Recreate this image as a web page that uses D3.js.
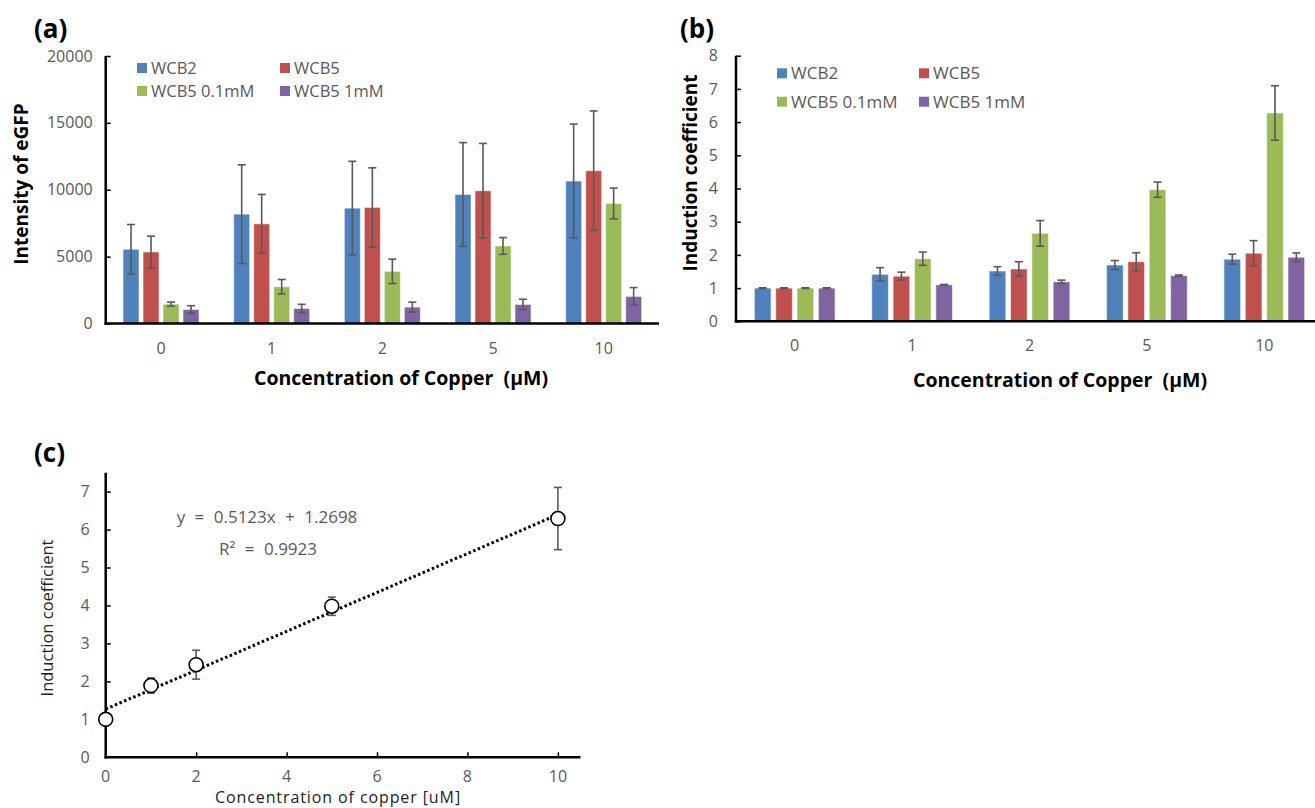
<!DOCTYPE html>
<html>
<head>
<meta charset="utf-8">
<script src="https://cdn.jsdelivr.net/npm/d3@7"></script>
<style>
  html, body { margin: 0; padding: 0; background: #fff; }
  svg { display: block; }
  text { font-family: "Open Sans", "Noto Sans", sans-serif; white-space: pre; }
</style>
</head>
<body>
<svg id="chart" width="1315" height="808"></svg>
<script>
// ---------- DATA ----------
const categories = ["0", "1", "2", "5", "10"];
const seriesNames = ["WCB2", "WCB5", "WCB5 0.1mM", "WCB5 1mM"];
const seriesColors = ["#4F81BD", "#C0504D", "#9BBB59", "#8064A2"];

// (a) Intensity of eGFP
const intensityWCB2 = [5550, 8175, 8625, 9650, 10650];
const intensityWCB2Err = [1850, 3690, 3500, 3875, 4260];
const intensityWCB5 = [5350, 7450, 8680, 9925, 11425];
const intensityWCB5Err = [1180, 2200, 2960, 3540, 4470];
const intensityWCB5_01 = [1450, 2750, 3900, 5800, 8975];
const intensityWCB5_01Err = [150, 540, 910, 625, 1150];
const intensityWCB5_1 = [1050, 1125, 1225, 1425, 2025];
const intensityWCB5_1Err = [280, 310, 370, 390, 660];
const intensityTicks = [0, 5000, 10000, 15000, 20000];

// (b) Induction coefficient
const inductionWCB2 = [1.00, 1.415, 1.515, 1.695, 1.87];
const inductionWCB2Err = [0.01, 0.20, 0.13, 0.135, 0.15];
const inductionWCB5 = [1.00, 1.36, 1.575, 1.795, 2.05];
const inductionWCB5Err = [0.01, 0.12, 0.22, 0.27, 0.38];
const inductionWCB5_01 = [1.00, 1.885, 2.65, 3.965, 6.275];
const inductionWCB5_01Err = [0.01, 0.20, 0.385, 0.23, 0.82];
const inductionWCB5_1 = [1.00, 1.10, 1.19, 1.375, 1.93];
const inductionWCB5_1Err = [0.01, 0.01, 0.05, 0.02, 0.13];
const inductionTicks = [0, 1, 2, 3, 4, 5, 6, 7, 8];

// (c) Linear fit
const copperX = [0, 1, 2, 5, 10];
const fitY = [1.00, 1.89, 2.44, 3.98, 6.29];
const fitErr = [0, 0.20, 0.38, 0.24, 0.82];
const fitSlope = 0.5123, fitIntercept = 1.2698, fitR2 = 0.9923;
const fitXTicks = [0, 2, 4, 6, 8, 10];
const fitYTicks = [0, 1, 2, 3, 4, 5, 6, 7];

// ---------- HELPERS ----------
const svg = d3.select("#chart");
const GRAY = "#595959";

function buildRows(vals, errs) {
  return categories.map((c, i) => ({
    cat: c,
    vals: vals.map((v, s) => ({ s, v: v[i], e: errs[s][i] }))
  }));
}

function barPanel(opt) {
  const g = svg.append("g");
  const x0 = d3.scaleBand().domain(categories).range([opt.x0, opt.x1]).padding(0);
  const bw = x0.bandwidth();
  const x1 = d3.scaleBand().domain(d3.range(seriesNames.length))
    .range([(bw - opt.groupW) / 2, (bw + opt.groupW) / 2]).paddingInner(opt.inner);
  const y = d3.scaleLinear().domain(opt.yDomain).range([opt.y0, opt.yTop]);
  const rows = buildRows(opt.vals, opt.errs);

  const grp = g.selectAll("g.grp").data(rows).join("g")
    .attr("transform", d => `translate(${x0(d.cat)},0)`);
  grp.selectAll("rect").data(d => d.vals).join("rect")
    .attr("x", d => x1(d.s)).attr("width", x1.bandwidth())
    .attr("y", d => y(d.v)).attr("height", d => y(0) - y(d.v))
    .attr("fill", d => seriesColors[d.s])
    .attr("stroke", "#ffffff").attr("stroke-opacity", 0.55).attr("stroke-width", 1);
  // error bars
  const eb = grp.selectAll("g.eb").data(d => d.vals).join("g").attr("class", "eb")
    .attr("stroke", GRAY).attr("stroke-width", 1.6);
  eb.append("line")
    .attr("x1", d => x1(d.s) + x1.bandwidth() / 2).attr("x2", d => x1(d.s) + x1.bandwidth() / 2)
    .attr("y1", d => y(d.v + d.e)).attr("y2", d => y(d.v - d.e));
  [1, -1].forEach(sign => {
    eb.append("line")
      .attr("x1", d => x1(d.s) + x1.bandwidth() / 2 - 4).attr("x2", d => x1(d.s) + x1.bandwidth() / 2 + 4)
      .attr("y1", d => y(d.v + sign * d.e)).attr("y2", d => y(d.v + sign * d.e));
  });

  // y axis
  const yAxis = d3.axisRight(y).tickValues(opt.yTicks).tickSize(5).tickFormat("");
  const ya = g.append("g").attr("transform", `translate(${opt.x0},0)`).call(yAxis);
  ya.select(".domain").remove();
  ya.selectAll("line").attr("stroke", "#000").attr("stroke-width", 1.5);
  g.append("line").attr("x1", opt.x0).attr("x2", opt.x0)
    .attr("y1", opt.yTop).attr("y2", opt.y0 + 1.2)
    .attr("stroke", "#000").attr("stroke-width", 2.5);
  g.selectAll("text.ytl").data(opt.yTicks).join("text").attr("class", "ytl")
    .attr("x", opt.x0 - opt.labelGap).attr("y", d => y(d)).attr("dy", "0.35em")
    .attr("text-anchor", "end").attr("fill", GRAY).attr("font-size", 16)
    .text(d => d);
  // x axis
  g.append("line").attr("x1", opt.x0 - 1.2).attr("x2", opt.x1)
    .attr("y1", opt.y0).attr("y2", opt.y0)
    .attr("stroke", "#000").attr("stroke-width", 2.5);
  g.selectAll("text.xtl").data(categories).join("text").attr("class", "xtl")
    .attr("x", d => x0(d) + bw / 2).attr("y", opt.y0 + opt.xLabelDy).attr("dy", "0.35em")
    .attr("text-anchor", "middle").attr("fill", GRAY).attr("font-size", 16)
    .text(d => d);

  // titles
  g.append("text").attr("x", opt.xTitleX).attr("y", opt.xTitleY).attr("dy", "0.35em")
    .attr("text-anchor", "middle").attr("font-weight", "bold").attr("font-size", 19.5)
    .attr("fill", "#000").text(opt.xTitle);
  g.append("text").attr("transform", `translate(${opt.yTitleX},${opt.yTitleY}) rotate(-90)`)
    .attr("dy", "0.35em").attr("text-anchor", "middle").attr("font-weight", "bold")
    .attr("font-size", 19).attr("fill", "#000").text(opt.yTitle);

  // legend
  const lg = g.selectAll("g.lg").data(seriesNames).join("g")
    .attr("transform", (d, i) => `translate(${opt.legX + (i % 2) * opt.legColW},${opt.legY + Math.floor(i / 2) * opt.legRowH})`);
  lg.append("rect").attr("x", 0).attr("y", -5).attr("width", 10).attr("height", 10)
    .attr("fill", (d, i) => seriesColors[i]);
  lg.append("text").attr("x", 14).attr("y", 0).attr("dy", "0.35em")
    .attr("fill", GRAY).attr("font-size", opt.legFont).text(d => d);

  // panel label
  svg.append("text").attr("x", opt.panelX).attr("y", opt.panelY)
    .attr("font-family", "Liberation Sans, Arial, sans-serif").attr("font-weight", "bold")
    .attr("font-size", 26).attr("fill", "#000").text(opt.panel);
}

// ---------- PANEL (a) ----------
barPanel({
  x0: 105.7, x1: 659, y0: 323.5, yTop: 56, yDomain: [0, 20000], yTicks: intensityTicks,
  groupW: 76, inner: 0.2,
  vals: [intensityWCB2, intensityWCB5, intensityWCB5_01, intensityWCB5_1],
  errs: [intensityWCB2Err, intensityWCB5Err, intensityWCB5_01Err, intensityWCB5_1Err],
  labelGap: 13, xLabelDy: 25,
  xTitle: "Concentration of Copper  (μM)", xTitleX: 401, xTitleY: 378,
  yTitle: "Intensity of eGFP", yTitleX: 21, yTitleY: 184,
  legX: 137, legY: 68, legColW: 143, legRowH: 23, legFont: 16.5,
  panel: "(a)", panelX: 34, panelY: 38
});

// ---------- PANEL (b) ----------
barPanel({
  x0: 736, x1: 1323, y0: 321.3, yTop: 55.7, yDomain: [0, 8], yTicks: inductionTicks,
  groupW: 80.7, inner: 0.22,
  vals: [inductionWCB2, inductionWCB5, inductionWCB5_01, inductionWCB5_1],
  errs: [inductionWCB2Err, inductionWCB5Err, inductionWCB5_01Err, inductionWCB5_1Err],
  labelGap: 18, xLabelDy: 24,
  xTitle: "Concentration of Copper  (μM)", xTitleX: 1060, xTitleY: 380,
  yTitle: "Induction coefficient", yTitleX: 690, yTitleY: 173,
  legX: 777, legY: 73.3, legColW: 142, legRowH: 28.4, legFont: 17,
  panel: "(b)", panelX: 680, panelY: 38
});

// ---------- PANEL (c) ----------
(function () {
  const g = svg.append("g");
  const X0 = 105.7, X1 = 580.5, Y0 = 757.3, YTOP = 472.7;
  const x = d3.scaleLinear().domain([0, 10.5]).range([X0, X1]);
  const y = d3.scaleLinear().domain([0, 7]).range([Y0, 491.6]);

  // axes
  const xa = g.append("g").attr("transform", `translate(0,${Y0})`)
    .call(d3.axisTop(x).tickValues(fitXTicks.filter(d => d > 0)).tickSize(5).tickFormat(""));
  xa.select(".domain").remove();
  xa.selectAll("line").attr("stroke", "#000").attr("stroke-width", 1.5);
  const ya = g.append("g").attr("transform", `translate(${X0},0)`)
    .call(d3.axisRight(y).tickValues(fitYTicks.filter(d => d > 0)).tickSize(5).tickFormat(""));
  ya.select(".domain").remove();
  ya.selectAll("line").attr("stroke", "#000").attr("stroke-width", 1.5);
  g.append("line").attr("x1", X0).attr("x2", X0).attr("y1", YTOP).attr("y2", Y0 + 1.2)
    .attr("stroke", "#000").attr("stroke-width", 2.5);
  g.append("line").attr("x1", X0 - 1.2).attr("x2", X1).attr("y1", Y0).attr("y2", Y0)
    .attr("stroke", "#000").attr("stroke-width", 2.5);

  g.selectAll("text.xt").data(fitXTicks).join("text").attr("class", "xt")
    .attr("x", d => x(d)).attr("y", Y0 + 19).attr("dy", "0.35em")
    .attr("text-anchor", "middle").attr("fill", GRAY).attr("font-size", 16).text(d => d);
  g.selectAll("text.yt").data(fitYTicks).join("text").attr("class", "yt")
    .attr("x", X0 - 16).attr("y", d => y(d)).attr("dy", "0.35em")
    .attr("text-anchor", "end").attr("fill", GRAY).attr("font-size", 16).text(d => d);

  // trendline
  g.append("line")
    .attr("x1", x(0)).attr("y1", y(fitIntercept))
    .attr("x2", x(10)).attr("y2", y(fitSlope * 10 + fitIntercept))
    .attr("stroke", "#000").attr("stroke-width", 3).attr("stroke-dasharray", "2.5,2.5");

  // error bars
  const pts = copperX.map((cx, i) => ({ x: cx, y: fitY[i], e: fitErr[i] }));
  const eb = g.selectAll("g.eb").data(pts.filter(d => d.e > 0)).join("g")
    .attr("stroke", GRAY).attr("stroke-width", 1.6);
  eb.append("line").attr("x1", d => x(d.x)).attr("x2", d => x(d.x))
    .attr("y1", d => y(d.y + d.e)).attr("y2", d => y(d.y - d.e));
  [1, -1].forEach(s => {
    eb.append("line").attr("x1", d => x(d.x) - 4).attr("x2", d => x(d.x) + 4)
      .attr("y1", d => y(d.y + s * d.e)).attr("y2", d => y(d.y + s * d.e));
  });
  // markers
  g.selectAll("circle").data(pts).join("circle")
    .attr("cx", d => x(d.x)).attr("cy", d => y(d.y)).attr("r", 7)
    .attr("fill", "#fff").attr("stroke", "#000").attr("stroke-width", 1.6);

  // equation
  g.append("text").attr("x", 267).attr("y", 517).attr("dy", "0.35em").attr("text-anchor", "middle")
    .attr("fill", GRAY).attr("font-size", 17).attr("word-spacing", 5)
    .text(`y = ${fitSlope}x + ${fitIntercept}`);
  g.append("text").attr("x", 268).attr("y", 549).attr("dy", "0.35em").attr("text-anchor", "middle")
    .attr("fill", GRAY).attr("font-size", 17).attr("word-spacing", 5)
    .text(`R² = ${fitR2}`);

  // titles
  g.append("text").attr("x", 338).attr("y", 803.3).attr("text-anchor", "middle")
    .attr("fill", "#222").attr("font-size", 16).attr("letter-spacing", 0.9)
    .text("Concentration of copper [uM]");
  g.append("text").attr("transform", "translate(47,618) rotate(-90)").attr("dy", "0.35em")
    .attr("text-anchor", "middle").attr("fill", "#222").attr("font-size", 16.5)
    .text("Induction coefficient");

  svg.append("text").attr("x", 34).attr("y", 462)
    .attr("font-family", "Liberation Sans, Arial, sans-serif").attr("font-weight", "bold")
    .attr("font-size", 26).attr("fill", "#000").text("(c)");
})();
</script>
</body>
</html>
